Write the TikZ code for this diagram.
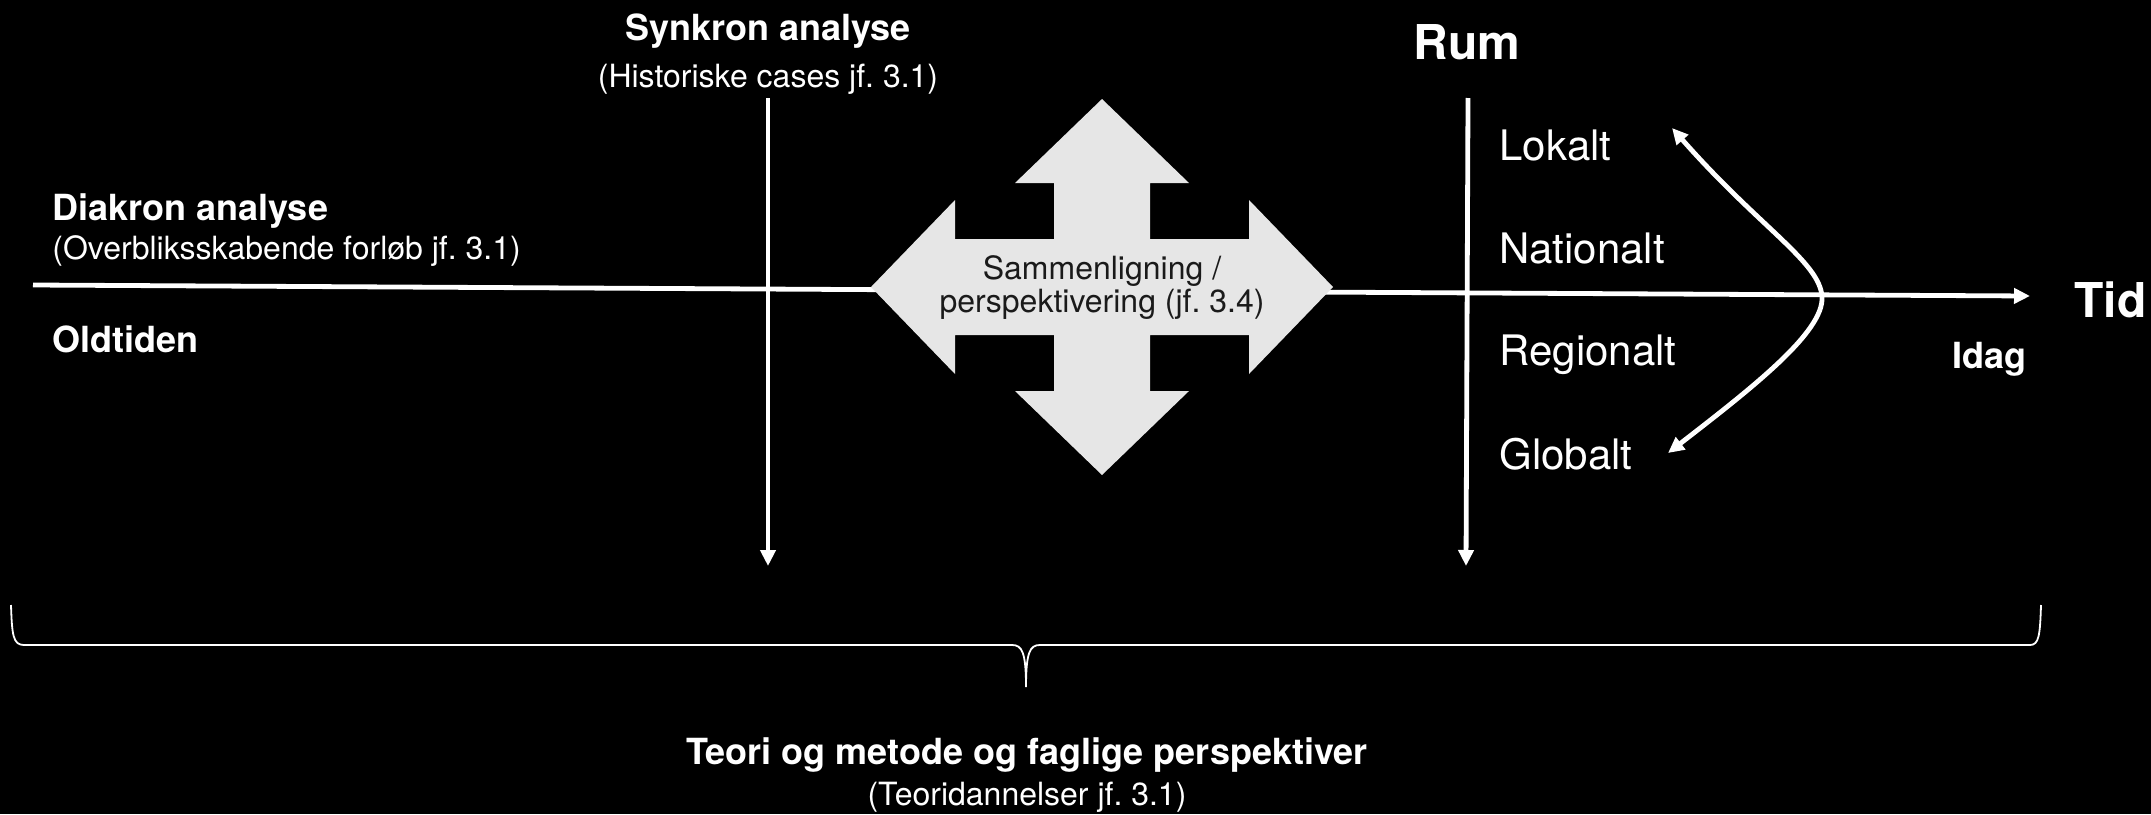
\documentclass[tikz,border=0pt]{standalone}
\usepackage{fontspec}
\setmainfont{TeX Gyre Heros}
\usepackage{xcolor}
\usetikzlibrary{arrows.meta}

\definecolor{cmpgray}{HTML}{E6E6E6}
\definecolor{cmptext}{HTML}{1A1A1A}

\begin{document}
\frenchspacing
\begin{tikzpicture}[x=0.5pt,y=-0.5pt,
    every node/.style={text=white,inner sep=0pt},
    head/.style={font=\fontsize{18}{20}\selectfont\bfseries},
    sub/.style={font=\fontsize{16}{18}\selectfont},
    axislbl/.style={font=\fontsize{24}{26}\selectfont\bfseries},
    lvl/.style={font=\fontsize{21}{24}\selectfont,anchor=base west},
    ax/.style={white,line width=2.4pt,-{Triangle[length=8pt,width=7.5pt]}},
    curv/.style={white,line width=2.4pt,{Triangle[length=8pt,width=7.5pt]}-{Triangle[length=8pt,width=7.5pt]}},
    cmpfill/.style={fill=cmpgray},
    cmp/.style={text=cmptext,align=center,font=\fontsize{16}{16.5}\selectfont}]
 \fill[black] (0,0) rectangle (2151,814);
 \useasboundingbox (0,0) rectangle (2151,814);

 % labels
 \node[head,anchor=base] (synk) at (768,40) {Synkron analyse};
 \node[sub,anchor=base] (synksub) at (768,87) {(Historiske cases jf. 3.1)};
 \node[head,anchor=base west] (diak) at (52,220) {Diakron analyse};
 \node[sub,anchor=base west] (diaksub) at (52,259) {(Overbliksskabende forløb jf. 3.1)};
 \node[head,anchor=base west] (old) at (52,352) {Oldtiden};
 \node[axislbl,anchor=base] (rum) at (1467,59) {Rum};
 \node[axislbl,anchor=base west] (tid) at (2074,317) {Tid};
 \node[head,anchor=base] (idag) at (1989,368) {Idag};
 \node[head,anchor=base] (teori) at (1027,764) {Teori og metode og faglige perspektiver};
 \node[sub,anchor=base] (teorisub) at (1027,805) {(Teoridannelser jf. 3.1)};
 \foreach \lbl/\yy in {Lokalt/160,Nationalt/263,Regionalt/365,Globalt/469}
   \node[lvl] (\lbl) at (1499,\yy) {\lbl};

 % axes
 \coordinate (t0) at (33,285); \coordinate (t1) at (2030,296);
 \draw[ax] (t0) -- (t1);
 \coordinate (s0) at (768,98); \coordinate (s1) at (768,566);
 \draw[ax] (s0) -- (s1);
 \coordinate (r0) at (1468,98); \coordinate (r1) at (1466,566);
 \draw[ax] (r0) -- (r1);

 % scale curve
 \coordinate (c0) at (1672,128); \coordinate (cv) at (1822,297); \coordinate (c1) at (1668,453);
 \draw[curv] (c0) .. controls (1760,228) and (1820,262) .. (cv)
   .. controls (1824,332) and (1752,388) .. (c1);

 % comparison arrow
 \coordinate (mid) at (1102,287);
 \fill[cmpfill,shift={(mid)}] (231,0) -- (147,87) -- (147,48) -- (48,48) -- (48,104)
   -- (87,104) -- (0,188) -- (-87,104) -- (-48,104) -- (-48,48) -- (-147,48)
   -- (-147,87) -- (-231,0) -- (-147,-87) -- (-147,-48) -- (-48,-48) -- (-48,-104)
   -- (-87,-104) -- (0,-188) -- (87,-104) -- (48,-104) -- (48,-48) -- (147,-48)
   -- (147,-87) -- cycle;
 \node[cmp] (cmpnode) at (1102,288) {Sammenligning /\\perspektivering (jf. 3.4)};

 % brace
 \draw[white,line width=0.9pt] (11,605) .. controls (12,635) and (13,645) .. (24,645)
   -- (1012,645) .. controls (1022,645) and (1026,652) .. (1026,687)
   .. controls (1026,652) and (1030,645) .. (1040,645) -- (2030,645)
   .. controls (2039,645) and (2040,635) .. (2041,605);
\end{tikzpicture}
\end{document}
